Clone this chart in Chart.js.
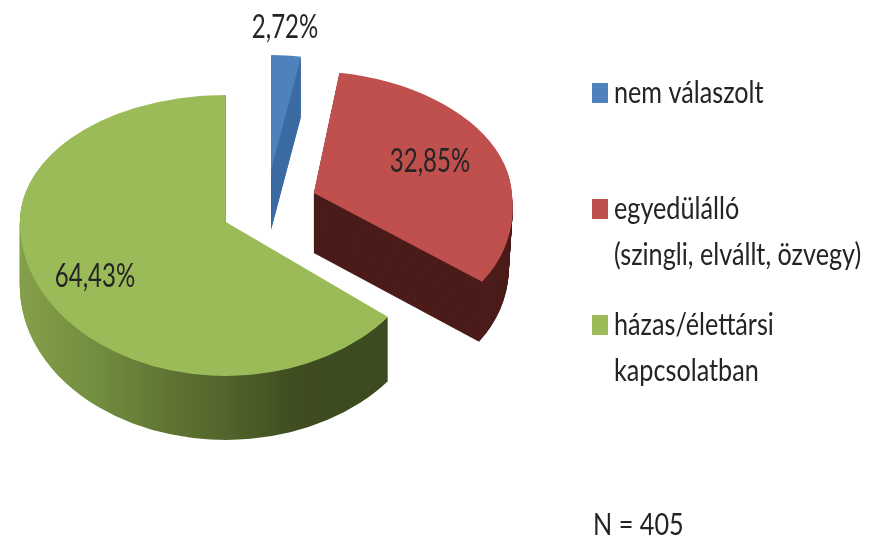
<!DOCTYPE html>
<html>
<head>
<meta charset="utf-8">
<style>
html,body{margin:0;padding:0;background:#fff}
canvas{display:block;filter:blur(0.7px)}
</style>
<script src="https://cdn.jsdelivr.net/npm/chart.js@4"></script>
</head>
<body>
<canvas id="c" width="874" height="540"></canvas>
<script>
const categories = ['nem válaszolt', 'egyedülálló', 'házas/élettársi kapcsolatban'];
const seriesValues = [2.72, 32.85, 64.43];
const legendLines = [['nem válaszolt'], ['egyedülálló', '(szingli, elvállt, özvegy)'], ['házas/élettársi', 'kapcsolatban']];
const sampleNote = 'N = 405';
const topColors = ['#4f81bd', '#c0504d', '#9bbb59'];

// 3-D look of the exploded pie (perspective squeeze for every wedge)
const view = {cx: 269, cy: 206, explode: 48, explodeY: 0.757, baseR: 200};
const shapes = [
  {rx: 176, up: 115, down: 115, skewUp: 0,     skewDown: 0,    taper: 0,    depth: 60, dx: -2},
  {rx: 198, up: 122, down: 144, skewUp: 0.067, skewDown: 0.14, taper: 0.02, depth: 60, dx: 0},
  {rx: 206, up: 127, down: 154, skewUp: 0,     skewDown: 0,    taper: 0,    depth: 64, dx: 0}
];
const legendLayout = {swatchX: 592, swatchW: 16, swatchH: 20, textX: 614, tops: [83, 199, 315], firstBase: [103, 219, 335], lineGap: 46};
const labelLayout = [[285, 38], [430, 172], [95, 287]];
const noteLayout = [593, 535];
const textStyle = {color: '#242424', family: 'Lato', labelSize: 32, labelScale: 0.75, legendSize: 30, legendScale: 0.84};

function wallFill(ctx, arc, i) {
  if (i === 0) return '#3e6ca3';
  if (i === 1) return '#4b1c1a';
  const g = ctx.createLinearGradient(arc.x - view.baseR, 0, arc.x + view.baseR * 0.8, 0);
  g.addColorStop(0, '#84a04a');
  g.addColorStop(0.22, '#708c3e');
  g.addColorStop(0.4, '#5f7433');
  g.addColorStop(0.55, '#52652b');
  g.addColorStop(0.75, '#3e4c20');
  g.addColorStop(1, '#3c4a1f');
  return g;
}

function paintLayer(ctx, arc, i, ax, ay, scaleX, fill) {
  const s = shapes[i];
  const saved = arc.options;
  arc.options = {backgroundColor: fill, borderColor: fill, borderWidth: 0, borderAlign: 'center',
    offset: 0, spacing: 0, circular: true, borderRadius: 0, borderJoinStyle: 'round', borderDash: [], borderDashOffset: 0};
  const yr = Math.round(ay);
  [[s.down, s.skewDown, yr, 420], [s.up, s.skewUp, yr - 420, 420.5]].forEach(([ry, skew, top, h]) => {
    ctx.save();
    ctx.beginPath();
    ctx.rect(0, top, 874, h);
    ctx.clip();
    const a = s.rx / view.baseR * scaleX, d = ry / view.baseR;
    ctx.transform(a, 0, skew * d, d, ax, yr);
    ctx.translate(-arc.x, -arc.y);
    arc.draw(ctx);
    ctx.restore();
  });
  arc.options = saved;
}

function squeezedText(ctx, text, x, y, size, scale, align) {
  ctx.save();
  ctx.translate(x, y);
  ctx.scale(scale, 1);
  ctx.font = size + 'px ' + textStyle.family;
  ctx.fillStyle = textStyle.color;
  ctx.textAlign = align;
  ctx.textBaseline = 'alphabetic';
  ctx.fillText(text, 0, 0);
  ctx.restore();
}

const pie3d = {
  id: 'pie3d',
  beforeDatasetsDraw(chart) {
    const ctx = chart.ctx;
    const arcs = chart.getDatasetMeta(0).data;
    arcs.forEach((arc, i) => {
      const mid = (arc.startAngle + arc.endAngle) / 2;
      const ax = view.cx + Math.cos(mid) * view.explode + shapes[i].dx;
      const ay = view.cy + Math.sin(mid) * view.explode * view.explodeY;
      const wall = wallFill(ctx, arc, i);
      const depth = shapes[i].depth;
      for (let t = depth; t >= 1; t--) {
        paintLayer(ctx, arc, i, ax, ay + t, 1 - shapes[i].taper * t / depth, wall);
      }
      paintLayer(ctx, arc, i, ax, ay, 1, topColors[i]);
    });
    return false;
  },
  afterDraw(chart) {
    const ctx = chart.ctx;
    seriesValues.forEach((v, i) => {
      squeezedText(ctx, v.toFixed(2).replace('.', ',') + '%', labelLayout[i][0], labelLayout[i][1],
        textStyle.labelSize, textStyle.labelScale, 'center');
    });
    legendLines.forEach((lines, i) => {
      ctx.fillStyle = topColors[i];
      ctx.fillRect(legendLayout.swatchX, legendLayout.tops[i], legendLayout.swatchW, legendLayout.swatchH);
      lines.forEach((line, j) => {
        squeezedText(ctx, line, legendLayout.textX, legendLayout.firstBase[i] + j * legendLayout.lineGap,
          textStyle.legendSize, textStyle.legendScale, 'left');
      });
    });
    squeezedText(ctx, sampleNote, noteLayout[0], noteLayout[1], textStyle.legendSize, textStyle.legendScale, 'left');
  }
};

new Chart(document.getElementById('c'), {
  type: 'pie',
  data: {
    labels: categories,
    datasets: [{data: seriesValues, backgroundColor: topColors, borderWidth: 0}]
  },
  options: {
    responsive: false,
    animation: false,
    radius: view.baseR,
    rotation: 0,
    layout: {padding: 0},
    plugins: {legend: {display: false}, tooltip: {enabled: false}, title: {display: false}}
  },
  plugins: [pie3d]
});
</script>
</body>
</html>
